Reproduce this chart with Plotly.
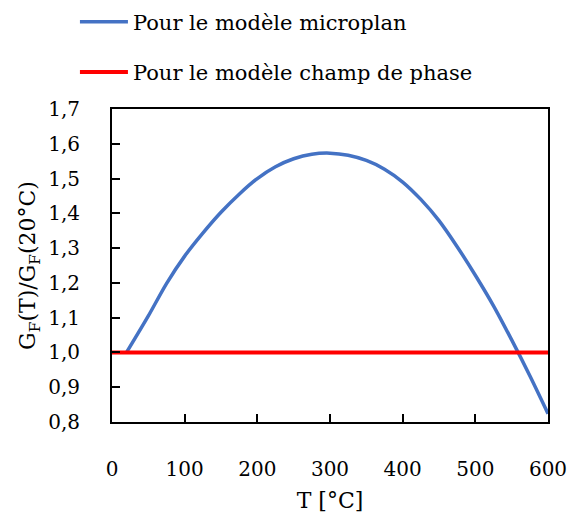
import plotly.graph_objects as go

# Data
temperature = [20, 50, 75, 100, 125, 150, 175, 200, 225, 250, 275, 300,
               325, 350, 375, 400, 425, 450, 475, 500, 525, 550, 575, 600]
ratio_microplan = [1.000, 1.105, 1.198, 1.277, 1.343, 1.403, 1.455, 1.500,
                   1.534, 1.557, 1.570, 1.573, 1.567, 1.552, 1.527, 1.490,
                   1.440, 1.379, 1.304, 1.222, 1.134, 1.036, 0.933, 0.824]
temperature_phase = [0, 600]
ratio_phase = [1.0, 1.0]

series_names = ["Pour le modèle microplan", "Pour le modèle champ de phase"]

FONT = "DejaVu Serif"

fig = go.Figure()
fig.add_trace(go.Scatter(x=temperature, y=ratio_microplan, mode="lines",
                         name=series_names[0], legendgroup="a",
                         line=dict(color="#4472C4", width=3.5, shape="spline",
                                   smoothing=0.8)))
fig.add_trace(go.Scatter(x=temperature_phase, y=ratio_phase, mode="lines",
                         name=series_names[1], legendgroup="b",
                         line=dict(color="#FF0000", width=4)))

fig.update_layout(
    width=571, height=519,
    autosize=False,
    margin=dict(l=112, r=23, t=109, b=97, autoexpand=False),
    paper_bgcolor="white", plot_bgcolor="white",
    separators=", ",
    font=dict(family=FONT, size=20, color="black"),
    showlegend=True,
    legend=dict(x=-0.085, xanchor="left", y=0.997, yanchor="top",
                yref="container", xref="paper",
                orientation="v", tracegroupgap=20, itemwidth=48,
                font=dict(family=FONT, size=21, color="black"),
                bgcolor="rgba(0,0,0,0)"),
    xaxis=dict(range=[0, 600], tickvals=[0, 100, 200, 300, 400, 500, 600],
               showgrid=False, zeroline=False, automargin=False,
               showline=True, linecolor="black", linewidth=2, mirror=True,
               ticks="inside", ticklen=8, tickwidth=2, tickcolor="black",
               ticklabelstandoff=28,
               title=dict(text="T [°C]", standoff=13,
                          font=dict(family=FONT, size=22))),
    yaxis=dict(range=[0.8, 1.7], dtick=0.1, tickformat=".1f",
               showgrid=False, zeroline=False, automargin=False,
               showline=True, linecolor="black", linewidth=2, mirror=True,
               ticks="inside", ticklen=8, tickwidth=2, tickcolor="black",
               ticklabelstandoff=26,
               title=dict(text="G<sub>F</sub>(T)/G<sub>F</sub>(20°C)", standoff=6,
                          font=dict(family=FONT, size=22))),
)

fig.write_html("out.html",
               config={"displayModeBar": False, "responsive": False},
               post_script="document.body.style.margin='0';"
                           "document.body.style.overflow='hidden';")
